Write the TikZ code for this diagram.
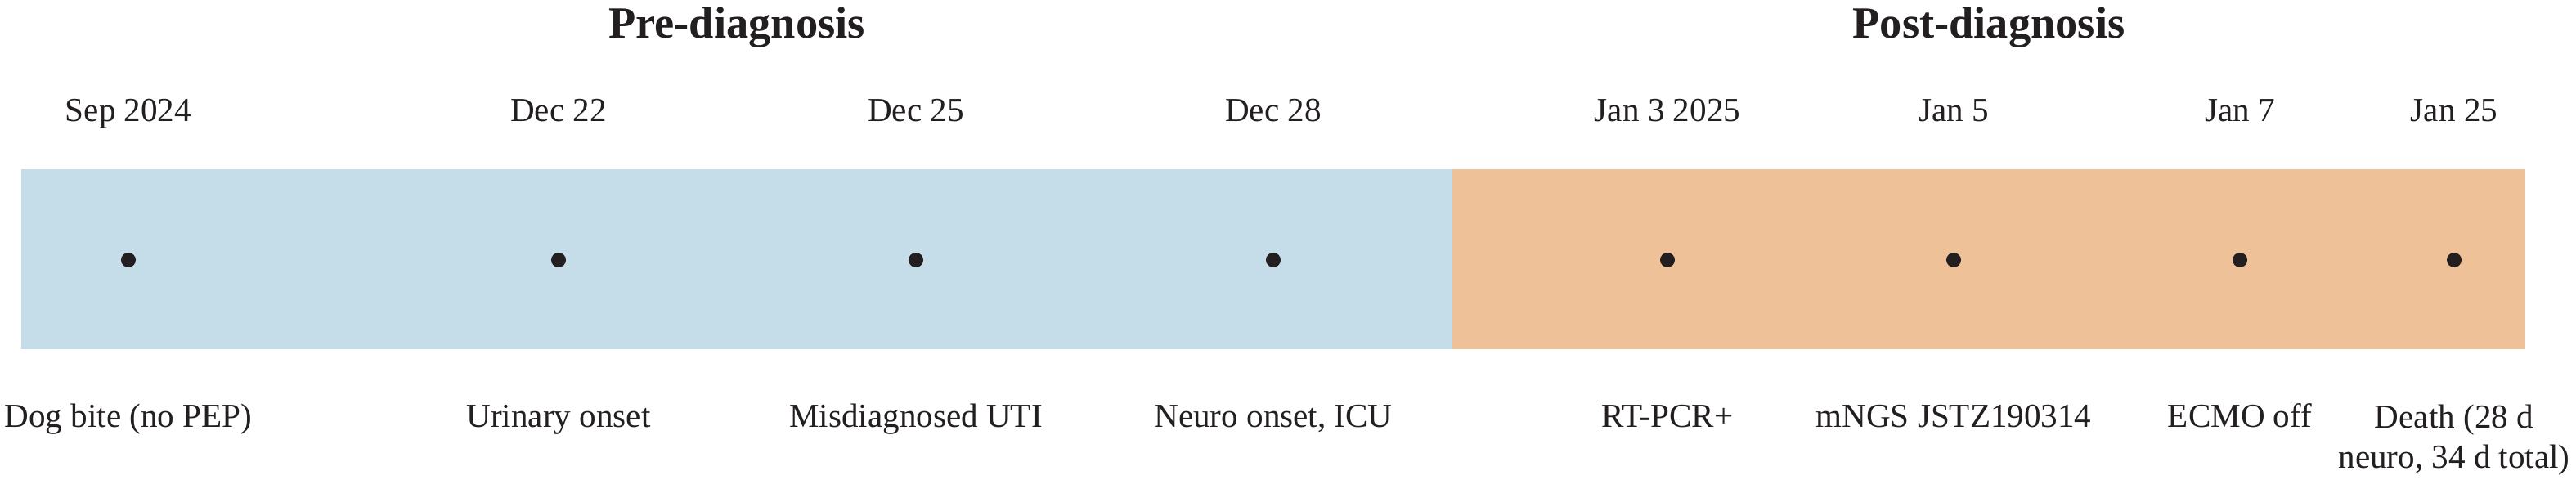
\documentclass[tikz,border=0pt]{standalone}
\usepackage{fontspec}
\setmainfont{Liberation Serif}
\usetikzlibrary{positioning}

\definecolor{prefill}{RGB}{196,221,232}
\definecolor{postfill}{RGB}{239,193,153}
\definecolor{inkdark}{RGB}{35,31,32}

\begin{document}
\begin{tikzpicture}[
	dot/.style={circle, fill=inkdark, inner sep=0pt, minimum size=0.18cm},
	datelabel/.style={anchor=base, font=\fontsize{11.7}{14}\selectfont, text=inkdark},
	eventlabel/.style={anchor=base, align=center, font=\fontsize{11.7}{14.2}\selectfont, text=inkdark},
	phase/.style={anchor=base, font=\fontsize{15.5}{18}\selectfont\bfseries, text=inkdark}
]
	\useasboundingbox (0,0) rectangle (31.5,5.87);
	% phase bands
	\fill[prefill] (0.26,1.60) rectangle (17.76,3.80);
	\fill[postfill] (17.76,1.60) rectangle (30.88,3.80);
	\node[phase] (pre) at (9.01,5.40) {Pre-diagnosis};
	\node[phase] (post) at (24.32,5.40) {Post-diagnosis};
	% events (last field: baseline of the last text line)
	\foreach \x/\d/\e/\b [count=\i] in {
		1.57/Sep 2024/{Dog bite (no PEP)}/0.64,
		6.83/Dec 22/{Urinary onset}/0.64,
		11.20/Dec 25/{Misdiagnosed UTI}/0.64,
		15.57/Dec 28/{Neuro onset, ICU}/0.64,
		20.39/Jan 3 2025/{RT-PCR+}/0.64,
		23.89/Jan 5/{mNGS JSTZ190314}/0.64,
		27.39/Jan 7/{ECMO off}/0.64,
		30.01/Jan 25/{Death (28 d\\neuro, 34 d total)}/0.14}{
		\node[dot] (p\i) at (\x,2.69) {};
		\node[datelabel] (d\i) at (\x,4.38) {\d};
		\node[eventlabel] (e\i) at (\x,\b) {\e};
	}
\end{tikzpicture}
\end{document}
